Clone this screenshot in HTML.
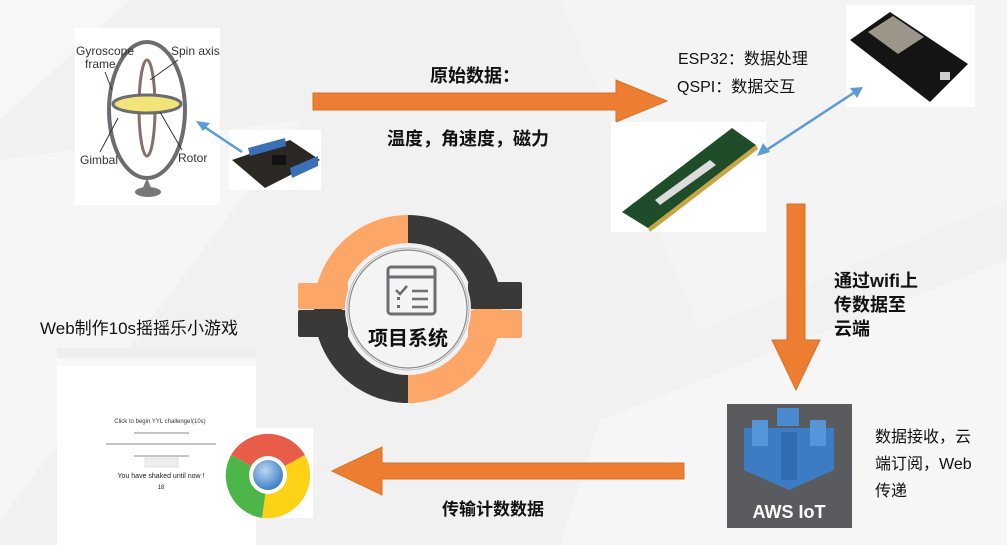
<!DOCTYPE html>
<html><head><meta charset="utf-8"><style>
body{margin:0;width:1007px;height:545px;overflow:hidden;background:#f1f1f2;}
svg{display:block}
text{font-family:"Liberation Sans","Noto Sans CJK SC",sans-serif;}
</style></head><body>
<svg width="1007" height="545" viewBox="0 0 1007 545">
<defs>
<radialGradient id="cg" cx="40%" cy="35%" r="65%"><stop offset="0" stop-color="#bcd6f1"/><stop offset="1" stop-color="#3f7fc8"/></radialGradient>
</defs>
<rect width="1007" height="545" fill="#f1f1f2"/>
<polygon points="0,0 130,0 0,120" fill="#f7f7f8"/>
<polygon points="0,160 300,120 0,520" fill="#f6f6f7"/>
<polygon points="560,0 1007,0 1007,200 700,330" fill="#f4f4f5"/>
<polygon points="600,420 1007,260 1007,545 560,545" fill="#f6f6f7"/>

<!-- gyroscope -->
<rect x="75" y="28" width="145" height="177" fill="#fff"/>
<ellipse cx="147" cy="110" rx="38" ry="68" fill="none" stroke="#6a6d72" stroke-width="4"/>
<ellipse cx="147" cy="108" rx="8" ry="48" fill="none" stroke="#8a6e6e" stroke-width="3"/>
<ellipse cx="147" cy="104" rx="34" ry="9" fill="#f3e47a" stroke="#6a6d72" stroke-width="3"/>
<path d="M147 178 L142 190 L152 190 Z" fill="#777"/>
<ellipse cx="148" cy="192" rx="13" ry="5" fill="#777"/>
<text x="76" y="55" font-size="12" fill="#333">Gyroscope</text>
<text x="85" y="68" font-size="12" fill="#333">frame</text>
<text x="171" y="55" font-size="12" fill="#333">Spin axis</text>
<text x="80" y="164" font-size="12" fill="#333">Gimbal</text>
<text x="178" y="162" font-size="12" fill="#333">Rotor</text>
<line x1="178" y1="60" x2="150" y2="80" stroke="#333"/>
<line x1="105" y1="72" x2="112" y2="90" stroke="#333"/>
<line x1="100" y1="152" x2="118" y2="118" stroke="#333"/>
<line x1="182" y1="150" x2="160" y2="112" stroke="#333"/>
<!-- board -->
<rect x="229" y="130" width="92" height="60" fill="#fff"/>
<polygon points="232,160 290,140 320,160 265,188" fill="#2b2722"/>
<polygon points="248,148 285,138 286,146 250,156" fill="#3b6fb6"/>
<polygon points="290,168 318,156 318,166 292,178" fill="#3b6fb6"/>
<rect x="272" y="155" width="14" height="10" fill="#111"/>
<line x1="242" y1="152" x2="200" y2="124" stroke="#5b9bd5" stroke-width="2.5"/>
<polygon points="196,121 210,123 203,131" fill="#5b9bd5"/>

<!-- right arrow -->
<polygon points="313,93 616,93 616,80 667,101 616,122 616,110 313,110" fill="#ed7d31" stroke="#d9702a" stroke-width="1"/>
<text x="430" y="82" font-size="18" font-weight="bold" fill="#111">原始数据：</text>
<text x="387" y="145" font-size="18" font-weight="bold" fill="#111">温度，角速度，磁力</text>

<!-- ESP32 -->
<text x="678" y="64" font-size="16" fill="#111">ESP32：数据处理</text>
<text x="677" y="92" font-size="16" fill="#111">QSPI：数据交互</text>
<rect x="846" y="5" width="129" height="102" fill="#fff"/>
<polygon points="850,40 890,12 968,64 930,102" fill="#141414"/>
<polygon points="868,32 893,16 924,37 898,54" fill="#9c958a"/>
<rect x="940" y="72" width="10" height="8" fill="#ccc"/>
<!-- RAM -->
<rect x="611" y="122" width="155" height="110" fill="#fff"/>
<polygon points="622,212 732,128 756,145 648,228" fill="#1f4d2a"/>
<polygon points="655,200 710,160 716,165 660,205" fill="#ddd"/>
<polygon points="648,228 756,145 758,149 650,232" fill="#c9a441"/>
<line x1="762" y1="153" x2="858" y2="90" stroke="#5b9bd5" stroke-width="2.5"/>
<polygon points="757,156 763,143 770,152" fill="#5b9bd5"/>
<polygon points="863,87 850,88 857,98" fill="#5b9bd5"/>

<!-- down arrow -->
<polygon points="787,204 805,204 805,340 820,340 796,390 772,340 787,340" fill="#ed7d31" stroke="#d9702a" stroke-width="1"/>
<text x="834" y="287" font-size="18" font-weight="bold" fill="#111">通过wifi上</text>
<text x="834" y="311" font-size="18" font-weight="bold" fill="#111">传数据至</text>
<text x="834" y="335" font-size="18" font-weight="bold" fill="#111">云端</text>

<!-- AWS -->
<rect x="727" y="404" width="125" height="124" fill="#5a5b5e"/>
<polygon points="744,428 834,428 834,470 789,490 744,470" fill="#3b7cc4"/>
<rect x="777" y="408" width="22" height="18" fill="#4a8bd0"/>
<rect x="752" y="420" width="16" height="26" fill="#5596d8"/>
<rect x="810" y="420" width="16" height="26" fill="#5596d8"/>
<rect x="781" y="432" width="16" height="48" fill="#2f6cb0"/>
<text x="789" y="518" font-size="18" font-weight="bold" fill="#fff" text-anchor="middle">AWS IoT</text>
<text x="875" y="442" font-size="16" fill="#111">数据接收，云</text>
<text x="875" y="469" font-size="16" fill="#111">端订阅，Web</text>
<text x="875" y="496" font-size="16" fill="#111">传递</text>

<!-- left arrow -->
<polygon points="684,463 382,463 382,447 332,471 382,495 382,479 684,479" fill="#ed7d31" stroke="#d9702a" stroke-width="1"/>
<text x="442" y="515" font-size="17" font-weight="bold" fill="#111">传输计数数据</text>

<!-- web -->
<text x="40" y="334" font-size="17" fill="#111">Web制作10s摇摇乐小游戏</text>
<rect x="57" y="348" width="199" height="197" fill="#fff"/>
<rect x="57" y="348" width="199" height="10" fill="#eeeef0"/>
<rect x="57" y="358" width="199" height="8" fill="#f8f8f8"/>
<text x="160" y="423" font-size="6" fill="#333" text-anchor="middle">Click to begin YYL challenge!(10s)</text>
<line x1="134" y1="433" x2="189" y2="433" stroke="#888"/>
<line x1="106" y1="444" x2="216" y2="444" stroke="#888"/>
<line x1="134" y1="456" x2="189" y2="456" stroke="#888"/>
<rect x="145" y="458" width="33" height="9" fill="#eee" stroke="#ccc" stroke-width=".5"/>
<text x="161" y="478" font-size="7" fill="#222" text-anchor="middle">You have shaked until now !</text>
<text x="161" y="489" font-size="6" fill="#222" text-anchor="middle">18</text>
<rect x="223" y="428" width="90" height="90" fill="#fff"/>
<path d="M268 475 L231 455 A43 43 0 0 1 305 455 Z" fill="#e85c4a"/>
<path d="M268 475 L305 455 A43 43 0 0 1 262 518 Z" fill="#fcd116"/>
<path d="M268 475 L262 518 A43 43 0 0 1 231 455 Z" fill="#4cb649"/>
<circle cx="268" cy="475" r="19" fill="#fff"/>
<circle cx="268" cy="475" r="15" fill="url(#cg)"/>

<!-- center circle -->
<path d="M408 215 A94 94 0 0 0 314 309 L342 309 A66 66 0 0 1 408 243 Z" fill="#fca667"/>
<path d="M408 215 A94 94 0 0 1 502 309 L474 309 A66 66 0 0 0 408 243 Z" fill="#3a3938"/>
<path d="M408 403 A94 94 0 0 1 314 309 L342 309 A66 66 0 0 0 408 375 Z" fill="#3a3938"/>
<path d="M408 403 A94 94 0 0 0 502 309 L474 309 A66 66 0 0 1 408 375 Z" fill="#fca667"/>
<rect x="298" y="283" width="50" height="26" rx="2" fill="#fca667"/>
<rect x="298" y="310" width="50" height="27" rx="2" fill="#3a3938"/>
<rect x="468" y="282" width="54" height="27" rx="2" fill="#3a3938"/>
<rect x="468" y="310" width="54" height="28" rx="2" fill="#fca667"/>
<circle cx="408" cy="309" r="63" fill="#f4f4f4"/>
<circle cx="408" cy="309" r="59" fill="none" stroke="#888" stroke-width="1.2"/>
<circle cx="408" cy="309" r="61" fill="none" stroke="#bbb" stroke-width="1"/>
<rect x="388" y="267" width="47" height="47" rx="3" fill="none" stroke="#6b6e73" stroke-width="3"/>
<line x1="388" y1="277" x2="435" y2="277" stroke="#6b6e73" stroke-width="3"/>
<polyline points="396,290 400,294 407,286" fill="none" stroke="#6b6e73" stroke-width="2.5"/>
<line x1="412" y1="291" x2="428" y2="291" stroke="#6b6e73" stroke-width="2.5"/>
<line x1="412" y1="299" x2="428" y2="299" stroke="#6b6e73" stroke-width="2.5"/>
<line x1="412" y1="307" x2="428" y2="307" stroke="#6b6e73" stroke-width="2.5"/>
<rect x="397" y="297" width="3" height="3" fill="#6b6e73"/>
<rect x="397" y="305" width="3" height="3" fill="#6b6e73"/>
<text x="408" y="345" font-size="20" font-weight="bold" fill="#111" text-anchor="middle">项目系统</text>
</svg>
</body></html>
